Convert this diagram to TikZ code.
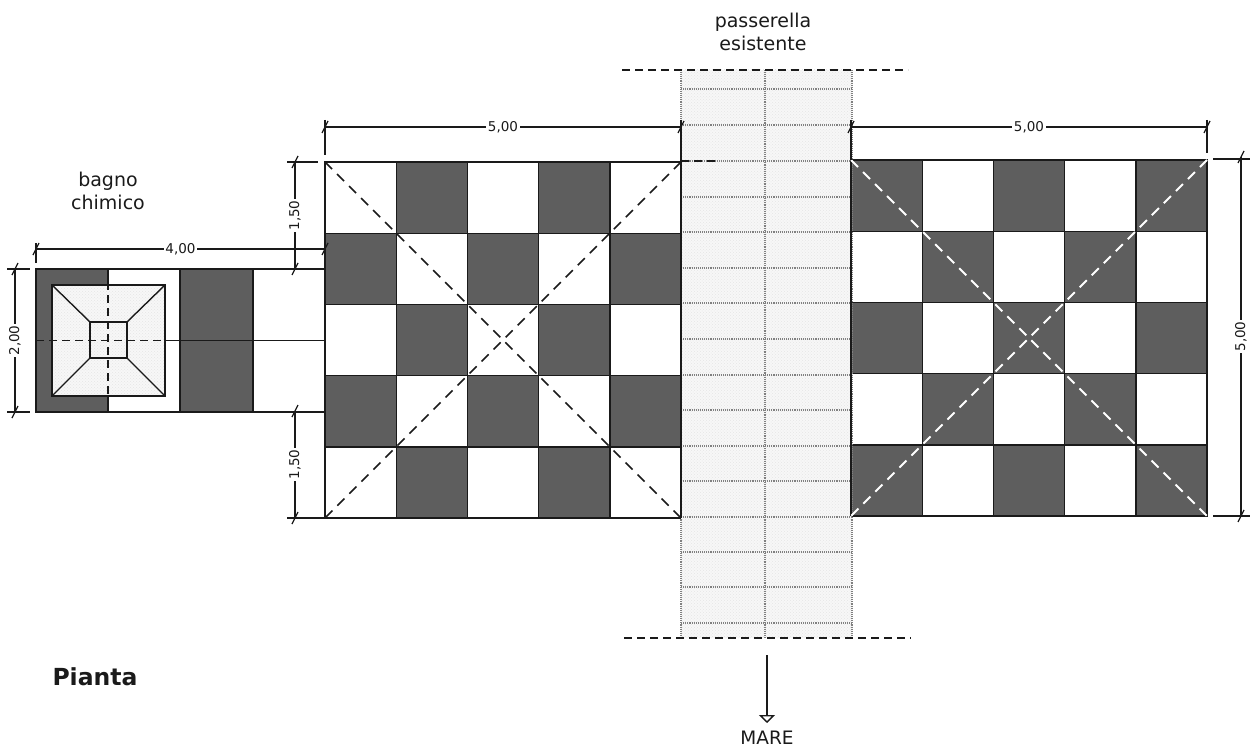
\documentclass[tikz,border=0pt]{standalone}
\usepackage{fontspec}
\setmainfont{DejaVu Sans}
\usetikzlibrary{patterns,arrows.meta,calc}
\definecolor{darkcell}{HTML}{5E5E5E}
\definecolor{mott}{HTML}{F7F7F7}
\definecolor{ink}{HTML}{1A1A1A}
\tikzset{
 x=1pt,y=-1pt,
 cellline/.style={draw=ink,line width=1.4pt},
 darkc/.style={fill=darkcell,draw=ink,line width=1.4pt},
 whitec/.style={fill=white,draw=ink,line width=1.4pt},
 mottle/.style={fill=mott},
 mottlep/.style={pattern=crosshatch dots,pattern color=gray!20},
 walkl/.style={draw=gray,line width=1.1pt,densely dotted},
 dashk/.style={draw=ink,line width=1.5pt,dash pattern=on 8pt off 5pt},
 dashd/.style={draw=ink,line width=1.5pt,dash pattern=on 10pt off 7pt},
 dashw/.style={draw=white,line width=1.8pt,dash pattern=on 10pt off 7pt},
 dim/.style={draw=ink,line width=1.2pt},
 tick/.style={draw=ink,line width=1.2pt},
 dimlab/.style={fill=white,inner sep=1.5pt,font=\fontsize{13.5}{13.5}\selectfont,text=ink},
 lab/.style={align=center,font=\fontsize{19}{23}\selectfont,text=ink},
}
\newcommand{\tk}[1]{\draw[tick] ($(#1)+(-3,6)$) -- ($(#1)+(3,-6)$);}
\begin{document}
\begin{tikzpicture}
\useasboundingbox (0,0) rectangle (1253,749);
% left and right grids
\foreach \i in {0,...,4}{\foreach \j in {0,...,4}{
  \pgfmathtruncatemacro{\p}{mod(\i+\j,2)}
  \ifnum\p=0
   \path[whitec] ({325+71.2*\i},{162+71.2*\j}) rectangle ++(71.2,71.2);
   \path[darkc] ({851+71.2*\i},{160+71.2*\j}) rectangle ++(71.2,71.2);
  \else
   \path[darkc] ({325+71.2*\i},{162+71.2*\j}) rectangle ++(71.2,71.2);
   \path[whitec] ({851+71.2*\i},{160+71.2*\j}) rectangle ++(71.2,71.2);
  \fi
}}
% walkway
\fill[mottle] (681,70) rectangle (852,638);
\fill[mottlep] (681,70) rectangle (852,638);
\foreach \y in {89,125,161,197,232,268,303,339,375,410,446,481,517,552,587,623}{
  \draw[walkl] (681,\y) -- (852,\y);}
\draw[walkl] (681,70) -- (681,638);
\draw[walkl] (765,70) -- (765,638);
\draw[walkl] (852,70) -- (852,638);
\draw[cellline] (681,125) -- (681,518) (851,125) -- (851,516);
% diagonals
\draw[dashd] (325,162) -- (681,518);
\draw[dashd] (681,162) -- (325,518);
\draw[dashk] (681,161) -- (716,161);
\draw[dashw] (851,160) -- (1207,516);
\draw[dashw] (1207,160) -- (851,516);
\draw[dashk] (622,70) -- (908,70);
\draw[dashk] (624,638) -- (911,638);
% bagno
\path[darkc] (36,269) rectangle (108,412);
\path[whitec] (108,269) rectangle (180,412);
\path[darkc] (180,269) rectangle (253,412);
\path[whitec] (253,269) rectangle (325,412);
\fill[mottle] (52,285) rectangle (165,396);
\fill[mottlep] (52,285) rectangle (165,396);
\draw[cellline] (52,285) rectangle (165,396);
\draw[cellline] (90,322) rectangle (127,358);
\draw[cellline] (52,285) -- (90,322) (165,285) -- (127,322) (52,396) -- (90,358) (165,396) -- (127,358);
\draw[cellline] (165,340.5) -- (325,340.5);
\draw[dashk] (36,340.5) -- (165,340.5);
\draw[dashk] (108,269) -- (108,396);
% dimensions
\coordinate (a1) at (36,249); \coordinate (a2) at (325,249);
\draw[dim] (a1) -- node[dimlab]{4,00} (a2);
\draw[dim] (36,243) -- (36,263);
\tk{a1}\tk{a2}
\coordinate (b1) at (15,269); \coordinate (b2) at (15,412);
\draw[dim] (b1) -- node[dimlab,rotate=90]{2,00} (b2);
\draw[dim] (7,269) -- (30,269) (7,412) -- (30,412);
\tk{b1}\tk{b2}
\coordinate (c1) at (295,162); \coordinate (c2) at (295,269);
\draw[dim] (c1) -- node[dimlab,rotate=90]{1,50} (c2);
\draw[dim] (287,162) -- (318,162);
\tk{c1}\tk{c2}
\coordinate (d1) at (295,411); \coordinate (d2) at (295,518);
\draw[dim] (d1) -- node[dimlab,rotate=90]{1,50} (d2);
\draw[dim] (287,518) -- (325,518);
\tk{d1}\tk{d2}
\coordinate (e1) at (325,127); \coordinate (e2) at (681,127);
\draw[dim] (e1) -- node[dimlab]{5,00} (e2);
\draw[dim] (325,120) -- (325,155) (681,120) -- (681,161);
\tk{e1}\tk{e2}
\coordinate (f1) at (851,127); \coordinate (f2) at (1207,127);
\draw[dim] (f1) -- node[dimlab]{5,00} (f2);
\draw[dim] (851,120) -- (851,160) (1207,120) -- (1207,153);
\tk{f1}\tk{f2}
\coordinate (g1) at (1241,157); \coordinate (g2) at (1241,516);
\draw[dim] (g1) -- node[dimlab,rotate=90]{5,00} (g2);
\draw[dim] (1213,159) -- (1250,159) (1213,516) -- (1250,516);
\tk{g1}\tk{g2}
% labels
\node[lab] (lp) at (763,32) {passerella\\esistente};
\node[lab] (lb) at (108,191) {bagno\\chimico};
\node[lab,font=\fontsize{23.5}{28}\selectfont\bfseries] (lt) at (95,677) {Pianta};
\node[lab,font=\fontsize{18.5}{22}\selectfont] (lm) at (767,738) {MARE};
\coordinate (m1) at (767,655);
\coordinate (m2) at (767,723);
\draw[dim,line width=1.4pt,-{Triangle[open,fill=white,length=8pt,width=16pt]}] (m1) -- (m2);
\end{tikzpicture}
\end{document}
